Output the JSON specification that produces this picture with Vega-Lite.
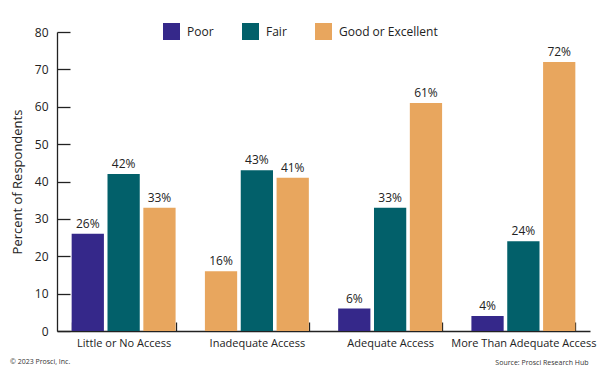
{
  "$schema": "https://vega.github.io/schema/vega-lite/v6.json",
  "width": 533,
  "height": 299,
  "autosize": "none",
  "padding": {"left": 57, "top": 32, "right": 10, "bottom": 44},
  "background": "white",
  "config": {"view": {"stroke": null}, "font": "Open Sans"},
  "title": {"text": "© 2023 Prosci, Inc.", "orient": "bottom", "anchor": "start", "frame": "group", "fontSize": 7, "fontWeight": "normal", "color": "#333", "dx": -47, "dy": -7, "offset": 0},
  "data": {"values": [
    {"access": "Little or No Access", "rating": "Poor", "pct": 26},
    {"access": "Little or No Access", "rating": "Fair", "pct": 42},
    {"access": "Little or No Access", "rating": "Good or Excellent", "pct": 33},
    {"access": "Inadequate Access", "rating": "Poor", "pct": 16},
    {"access": "Inadequate Access", "rating": "Fair", "pct": 43},
    {"access": "Inadequate Access", "rating": "Good or Excellent", "pct": 41},
    {"access": "Adequate Access", "rating": "Poor", "pct": 6},
    {"access": "Adequate Access", "rating": "Fair", "pct": 33},
    {"access": "Adequate Access", "rating": "Good or Excellent", "pct": 61},
    {"access": "More Than Adequate Access", "rating": "Poor", "pct": 4},
    {"access": "More Than Adequate Access", "rating": "Fair", "pct": 24},
    {"access": "More Than Adequate Access", "rating": "Good or Excellent", "pct": 72}
  ]},
  "encoding": {
    "x": {"field": "access", "type": "nominal",
      "sort": ["Little or No Access", "Inadequate Access", "Adequate Access", "More Than Adequate Access"],
      "scale": {"paddingInner": 0.22, "paddingOuter": 0.11},
      "axis": {"title": "Source: Prosci Research Hub", "titleFontSize": 7, "titleFontWeight": "normal", "titleColor": "#333", "titleX": 531, "titleY": 31, "titleAlign": "right", "titleAnchor": "end", "titleBaseline": "middle", "labelAngle": 0, "labelFontSize": 11, "labelColor": "#222", "labelPadding": 15, "tickBand": "extent", "tickSize": -9, "tickWidth": 1.3, "tickColor": "#222", "domainColor": "#222", "domainWidth": 1.3}},
    "xOffset": {"field": "rating", "type": "nominal", "sort": ["Poor", "Fair", "Good or Excellent"], "scale": {"paddingInner": 0.1}},
    "y": {"field": "pct", "type": "quantitative", "scale": {"domain": [0, 80]},
      "axis": {"title": "Percent of Respondents", "titleFontSize": 13, "titleFontWeight": "normal", "titleColor": "#222", "titlePadding": 10, "values": [0, 10, 20, 30, 40, 50, 60, 70, 80], "grid": false, "ticks": true, "tickSize": -13, "tickWidth": 1.3, "labelPadding": 22, "labelFontSize": 12, "labelColor": "#222", "tickColor": "#222", "domainColor": "#222", "domainWidth": 1.3}}
  },
  "layer": [
    {"mark": {"type": "bar"},
     "encoding": {"color": {
       "condition": {"test": "datum.access === 'Inadequate Access' && datum.rating === 'Poor'", "value": "#E8A65E"},
       "field": "rating", "type": "nominal",
       "scale": {"domain": ["Poor", "Fair", "Good or Excellent"], "range": ["#35288A", "#02606A", "#E8A65E"]},
       "legend": {"title": null, "orient": "none", "direction": "horizontal", "legendX": 106, "legendY": -9, "symbolType": "square", "symbolSize": 289, "symbolStrokeWidth": 0, "symbolOpacity": 1, "labelFontSize": 12, "labelColor": "#222", "columnPadding": 28, "labelOffset": 7}}}},
    {"mark": {"type": "text", "baseline": "bottom", "dy": -3, "fontSize": 12, "color": "#222", "text": {"expr": "datum.pct + '%'"}},
     "encoding": {}}
  ]
}
